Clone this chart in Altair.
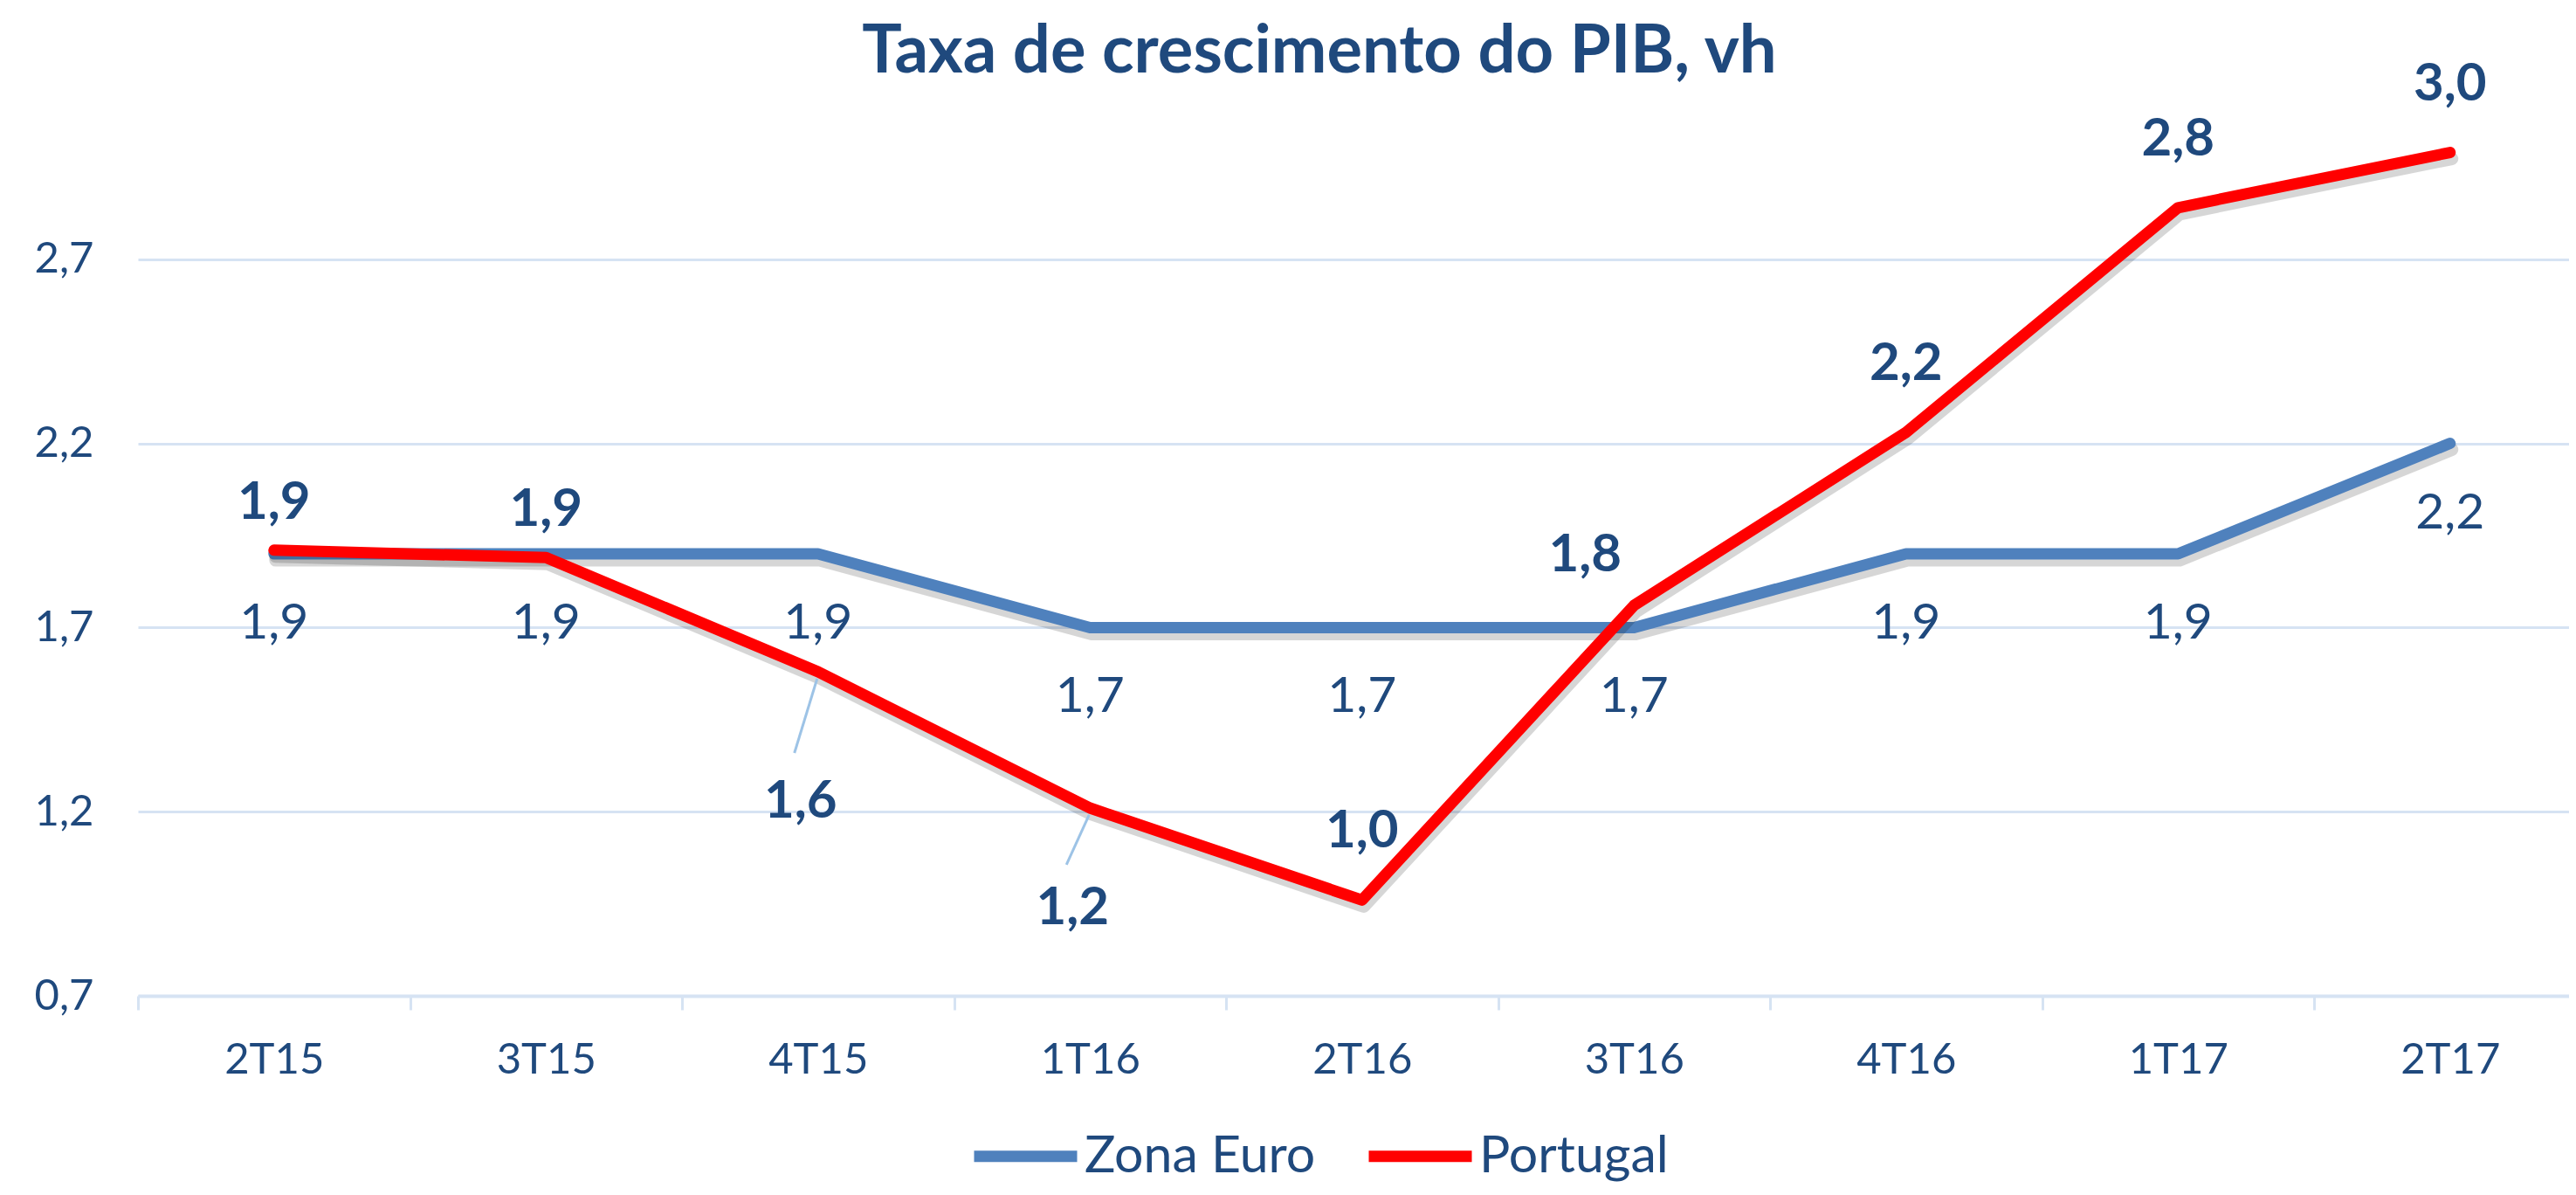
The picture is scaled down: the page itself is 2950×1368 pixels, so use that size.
import altair as alt
import pandas as pd

# ---------------- data ----------------
categories = ["2T15", "3T15", "4T15", "1T16", "2T16", "3T16", "4T16", "1T17", "2T17"]
zona_euro = [1.9, 1.9, 1.9, 1.7, 1.7, 1.7, 1.9, 1.9, 2.2]
portugal = [1.91, 1.89, 1.58, 1.21, 0.96, 1.76, 2.23, 2.84, 2.99]
series_names = ["Zona Euro", "Portugal"]
y_ticks = [0.7, 1.2, 1.7, 2.2, 2.7]
title_text = "Taxa de crescimento do PIB, vh"

rows = []
for i, c in enumerate(categories):
    rows.append({"cat": c, "serie": series_names[0], "v": zona_euro[i]})
    rows.append({"cat": c, "serie": series_names[1], "v": portugal[i]})
df = pd.DataFrame(rows)

# ---------------- style ----------------
BLUE = "#4F81BD"
RED = "#FF0000"
TXT = "#1F497D"
GRID = "#D6E3F3"
LEADER = "#9DC3E6"
FONT = "Lato"

W = 2784
H = 1054
STEP = 311.5

xs = alt.Scale(type="band", domain=categories, range=[0, STEP * 9],
               paddingInner=0, paddingOuter=0)
ys = alt.Scale(domain=[0.7, 3.2], nice=False, zero=False)

X = alt.X("cat:N", scale=xs, sort=categories, bandPosition=0.5,
          axis=alt.Axis(title=None, labelAngle=0, tickBand="extent", grid=False,
                        domainColor=GRID, domainWidth=4, tickColor=GRID,
                        tickWidth=3, tickSize=16, labelFont=FONT,
                        labelFontSize=49, labelColor=TXT, labelPadding=33))
Y = alt.Y("v:Q", scale=ys,
          axis=alt.Axis(title=None, values=y_ticks, domain=False, ticks=False,
                        grid=True, gridColor=GRID, gridWidth=3,
                        labelExpr="replace(format(datum.value, '.1f'), '.', ',')",
                        labelFont=FONT, labelFontSize=49, labelColor=TXT,
                        labelPadding=51))
COLOR = alt.Color("serie:N", scale=alt.Scale(domain=series_names, range=[BLUE, RED]),
                  legend=alt.Legend(title=None, orient="none", legendX=951, legendY=1172,
                                    direction="horizontal", symbolType="stroke",
                                    symbolStrokeWidth=13, symbolSize=13924,
                                    labelFont=FONT, labelFontSize=59, labelColor=TXT,
                                    labelOffset=2, columnPadding=34, labelLimit=800,
                                    padding=0))

base = alt.Chart(df).transform_calculate(
    lbl="replace(format(datum.v, '.1f'), '.', ',')"
)


def series(name):
    return base.transform_filter(alt.datum.serie == name)


def shadow(name):
    return series(name).mark_line(color="#000000", opacity=0.16, strokeWidth=15,
                                  xOffset=2, yOffset=7, strokeCap="round",
                                  strokeJoin="round").encode(x=X, y=Y)


def line(name):
    return series(name).mark_line(strokeWidth=13, strokeCap="round",
                                  strokeJoin="round").encode(x=X, y=Y, color=COLOR)


def pt_label(cats, dx, dy):
    return series(series_names[1]).transform_filter(
        alt.FieldOneOfPredicate(field="cat", oneOf=cats)
    ).mark_text(dx=dx, dy=dy, font=FONT, fontSize=60, fontWeight="bold",
                color=TXT, baseline="middle", align="center").encode(
        x=X, y=Y, text="lbl:N")


def leader(cat, x2off, y2off):
    return series(series_names[1]).transform_filter(
        alt.datum.cat == cat
    ).mark_rule(color=LEADER, strokeWidth=3, xOffset=-1, yOffset=8,
                x2Offset=x2off, y2Offset=y2off).encode(
        x=X, y=Y,
        x2=alt.X2("cat:N", bandPosition=0.5),
        y2=alt.Y2("v:Q"))


ze_labels = series(series_names[0]).mark_text(
    dy=80, font=FONT, fontSize=57, color=TXT, baseline="middle", align="center"
).encode(x=X, y=Y, text="lbl:N")

layers = [
    shadow(series_names[0]),
    line(series_names[0]),
    shadow(series_names[1]),
    line(series_names[1]),
    leader("4T15", -27, 93),
    leader("1T16", -27, 65),
    ze_labels,
    pt_label(["2T15", "3T15"], 0, -54),
    pt_label(["2T16", "4T16", "1T17", "2T17"], 0, -78),
    pt_label(["3T16"], -56, -57),
    pt_label(["4T15"], -20, 149),
    pt_label(["1T16"], -20, 115),
]

chart = alt.layer(*layers).properties(
    width=W,
    height=H,
    title=alt.TitleParams(text=title_text, font=FONT, fontSize=76, fontWeight="bold",
                          color=TXT, anchor="middle", frame="group", dx=-39, dy=32,
                          offset=0),
    padding={"left": 150, "top": 78, "right": 0, "bottom": 220},
    autosize=alt.AutoSizeParams(type="none"),
).configure_view(stroke=None)

chart.save("out.html", embed_options={"renderer": "svg", "actions": False})
